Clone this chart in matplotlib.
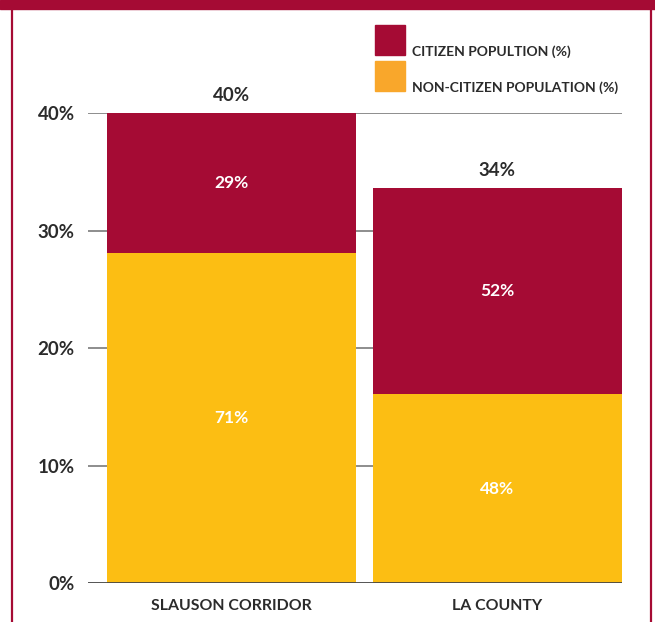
import matplotlib
matplotlib.use("Agg")
import matplotlib.pyplot as plt
from matplotlib.patches import Rectangle
from matplotlib.lines import Line2D

# data
regions = ["SLAUSON CORRIDOR", "LA COUNTY"]
totals = [40.0, 33.6]
total_labels = ["40%", "34%"]
non_citizen = [28.1, 16.1]
citizen = [11.9, 17.5]
non_citizen_labels = ["71%", "48%"]
citizen_labels = ["29%", "52%"]
yticks = [0, 10, 20, 30, 40]
legend_labels = ["CITIZEN POPULTION (%)", "NON-CITIZEN POPULATION (%)"]

RED = "#A50B34"
YELLOW = "#FCBE13"
ORANGE = "#F9A72B"
TEXT = "#2b2b2b"

plt.rcParams["font.family"] = ["Lato", "DejaVu Sans"]

fig = plt.figure(figsize=(6.55, 6.22), dpi=100)
ax = fig.add_axes([88 / 655, 1 - 583.3 / 622, 534 / 655, 470 / 622])

x = [0, 1]
width = 0.9364
ax.bar(x, non_citizen, width=width, color=YELLOW, zorder=2)
ax.bar(x, citizen, width=width, bottom=non_citizen, color=RED, zorder=2)

for i in range(len(regions)):
    ax.text(x[i], non_citizen[i] / 2, non_citizen_labels[i], ha="center", va="center",
            color="white", fontsize=12.5, fontweight="bold", zorder=3)
    ax.text(x[i], non_citizen[i] + citizen[i] / 2, citizen_labels[i], ha="center", va="center",
            color="white", fontsize=12.5, fontweight="bold", zorder=3)
    ax.annotate(total_labels[i], (x[i], totals[i]), xytext=(0, 12.6), textcoords="offset points",
                ha="center", va="center", color=TEXT, fontsize=13.5, fontweight="bold",
                annotation_clip=False)

ax.set_xlim(-0.5397, 1.4686)
ax.set_ylim(0, 40)
ax.set_yticks(yticks)
ax.set_yticklabels([f"{t}%" for t in yticks], color=TEXT, fontsize=13.5, fontweight="bold")
ax.tick_params(axis="y", length=0, pad=9.5)
ax.set_xticks(x)
ax.set_xticklabels(regions, color=TEXT, fontsize=11.4, fontweight="bold")
ax.tick_params(axis="x", length=0, pad=11)

for t in yticks[1:]:
    ax.axhline(t, color="#7a7a7a", lw=1.2, zorder=1)
ax.axhline(0, color="#444444", lw=2, zorder=3)
for side in ["top", "right", "left", "bottom"]:
    ax.spines[side].set_visible(False)

# outer frame
fig.patches.append(Rectangle((0, 1 - 8.5 / 622), 1, 8.5 / 622, transform=fig.transFigure,
                             color=RED, zorder=0))
fig.lines.append(Line2D([12 / 655, 12 / 655], [0, 1], transform=fig.transFigure, color=RED, lw=1.6))
fig.lines.append(Line2D([651 / 655, 651 / 655], [0, 1], transform=fig.transFigure, color=RED, lw=1.6))

# legend
legend_colors = [RED, ORANGE]
legend_tops = [25, 61]
for lab, col, top in zip(legend_labels, legend_colors, legend_tops):
    fig.patches.append(Rectangle((375 / 655, 1 - (top + 30) / 622), 30 / 655, 30 / 622,
                                 transform=fig.transFigure, color=col))
    fig.text(412 / 655, 1 - (top + 27) / 622, lab, ha="left", va="center",
             color=TEXT, fontsize=10, fontweight="bold")

fig.savefig("out.png", dpi=100, facecolor="white")
